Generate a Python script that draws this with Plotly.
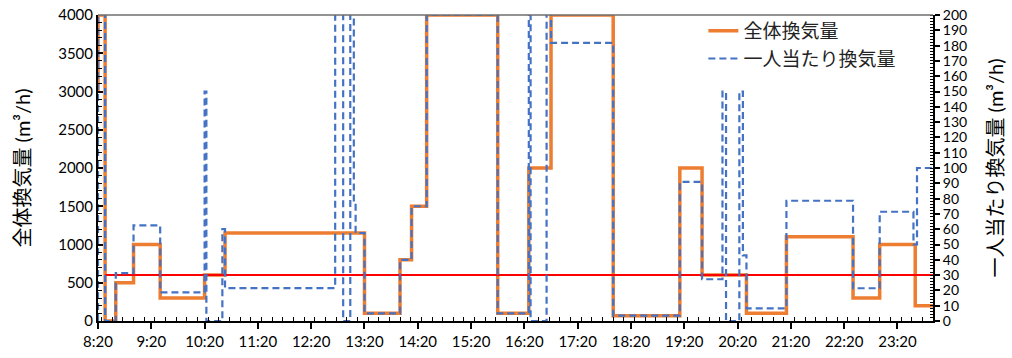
import plotly.graph_objects as go

# --- data (change points of step series) ---
t_total = ["08:20", "08:20", "08:28", "08:40", "09:00", "09:30", "10:20", "10:43", "13:20",
           "14:00", "14:13", "14:30", "15:50", "16:25", "16:50", "18:00", "19:15", "19:40",
           "20:30", "21:15", "22:30", "23:00", "23:40", "24:00"]
v_total = [3000, 4000, 0, 500, 1000, 300, 600, 1150, 100,
           800, 1500, 4000, 100, 2000, 4000, 70, 2000, 600,
           100, 1100, 300, 1000, 200, 200]

t_person = ["08:20", "08:20", "08:28", "08:40", "09:00", "09:30", "10:20", "10:22", "10:40",
            "10:43", "12:47", "12:56", "13:04", "13:08", "13:10", "13:20", "14:00", "14:13",
            "14:30", "15:50", "16:25", "16:27", "16:45", "16:50", "18:00", "19:15", "19:40",
            "20:03", "20:07", "20:22", "20:26", "20:30", "21:15", "22:30", "23:00", "23:38",
            "23:42", "24:00"]
v_person = [0, 250, 0, 31.25, 62.5, 18.75, 150, 0, 60,
            21.5, 250, 0, 250, 76.7, 57.5, 5, 40, 75,
            200, 5, 250, 0, 250, 181.8, 3.5, 90.9, 27.3,
            150, 0, 150, 42.9, 8.3, 78.6, 21.4, 71.4, 50,
            100, 100]

t_ref = ["08:28", "24:00"]
v_ref = [600, 600]

name_total = "全体換気量"
name_person = "一人当たり換気量"
y1_title = "全体換気量 (m³/h)"
y2_title = "一人当たり換気量 (m³/h)"


def to_dt(s):
    h, m = map(int, s.split(":"))
    if h >= 24:
        return "2000-01-02 %02d:%02d" % (h - 24, m)
    return "2000-01-01 %02d:%02d" % (h, m)


FONT = "Lato, 'Noto Sans CJK JP', sans-serif"

fig = go.Figure()
fig.add_trace(go.Scatter(
    x=[to_dt(t) for t in t_total], y=v_total, name=name_total, mode="lines",
    line=dict(color="#ED7D31", width=3.5, shape="hv"), yaxis="y"))
fig.add_trace(go.Scatter(
    x=[to_dt(t) for t in t_person], y=v_person, name=name_person, mode="lines",
    line=dict(color="#4472C4", width=2.2, shape="hv", dash="7px,4px"), yaxis="y2"))
fig.add_trace(go.Scatter(
    x=[to_dt(t) for t in t_ref], y=v_ref, mode="lines", showlegend=False,
    line=dict(color="#FF0000", width=2), yaxis="y"))

fig.update_layout(
    width=1012, height=358,
    margin=dict(l=98, r=79, t=15, b=37),
    paper_bgcolor="white", plot_bgcolor="white",
    font=dict(family=FONT, size=15, color="black"),
    showlegend=True,
    legend=dict(x=0.725, y=1.01, xanchor="left", yanchor="top",
                bgcolor="rgba(0,0,0,0)", font=dict(size=19, color="#222"),
                tracegroupgap=0, itemwidth=30),
    xaxis=dict(
        type="date", range=[to_dt("08:20"), to_dt("24:00")], automargin=False,
        tick0=to_dt("08:20"), dtick=3600000, tickformat="%-H:%M",
        ticks="outside", ticklen=6, tickwidth=1.5, tickcolor="black",
        showline=True, linecolor="black", linewidth=2, showgrid=False, zeroline=False,
        minor=dict(dtick=720000, ticks="inside", ticklen=4, tickcolor="black", tickwidth=1, showgrid=False),
        tickfont=dict(size=15)),
    yaxis=dict(
        range=[0, 4000], dtick=500, ticks="inside", ticklen=5, tickcolor="black", tickwidth=1.5,
        automargin=False,
        showline=True, linecolor="black", linewidth=2, showgrid=False, zeroline=False,
        minor=dict(dtick=100, ticks="inside", ticklen=4, tickcolor="black", tickwidth=1),
        title=dict(text=y1_title, font=dict(size=20), standoff=22),
        tickfont=dict(size=15)),
    yaxis2=dict(
        overlaying="y", side="right", range=[0, 200], dtick=10, automargin=False,
        ticks="outside", ticklen=5, tickcolor="black", tickwidth=1.5,
        showline=True, linecolor="black", linewidth=2, showgrid=False, zeroline=False,
        minor=dict(dtick=2, ticks="inside", ticklen=3, tickcolor="black", tickwidth=1),
        title=dict(text=y2_title, font=dict(size=20), standoff=23),
        tickfont=dict(size=14)),
    shapes=[dict(type="line", xref="paper", yref="paper", x0=0, x1=1, y0=1, y1=1,
                 line=dict(color="#6e6e6e", width=1.5))],
)

fig.write_html("out.html")
